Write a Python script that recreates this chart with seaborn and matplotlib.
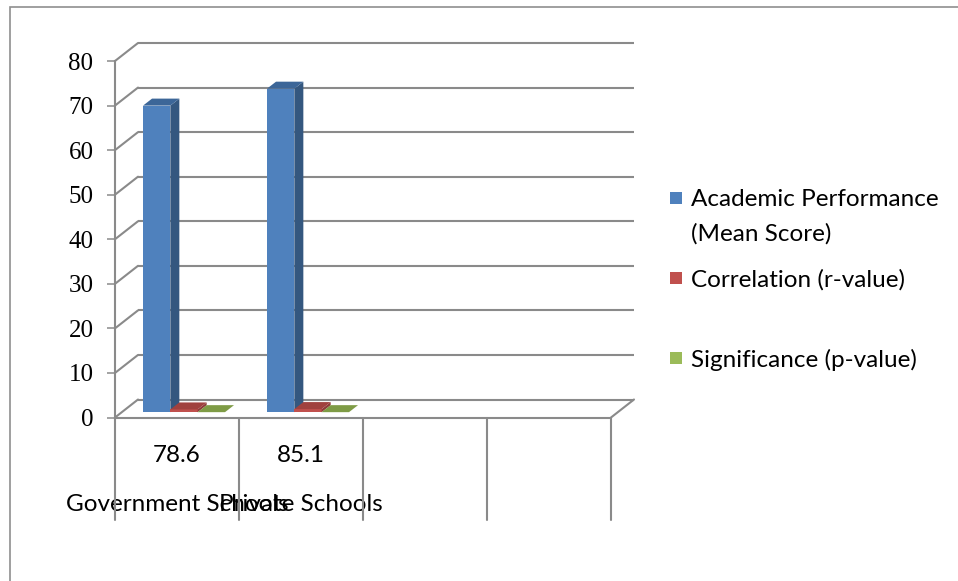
import numpy as np
import pandas as pd
import matplotlib
matplotlib.use("Agg")
import matplotlib.pyplot as plt
from matplotlib.patches import Polygon, Rectangle
from matplotlib.transforms import Affine2D
import seaborn as sns

# ---- data ----
categories = ["Government Schools", "Private Schools"]
category_values = ["78.6", "85.1"]
series = ["Academic Performance (Mean Score)", "Correlation (r-value)", "Significance (p-value)"]
legend_labels = [["Academic Performance", "(Mean Score)"],
                 ["Correlation (r-value)"],
                 ["Significance (p-value)"]]
academic = [68.8, 72.6]
correlation = [0.62, 0.70]
significance = [0.01, 0.01]
y_ticks = [0, 10, 20, 30, 40, 50, 60, 70, 80]
n_slots = 4  # two labelled categories followed by two empty slots

face_colors = ["#4F81BD", "#C0504D", "#9BBB59"]
side_colors = ["#34577F", "#8E3B39", "#71893F"]
top_colors = ["#3C6698", "#A0413E", "#7E9B45"]
grid_color = "#8A8A8A"

df = pd.DataFrame({
    "category": categories * 3,
    "series": [s for s in series for _ in categories],
    "value": academic + correlation + significance,
})

# ---- figure / axes geometry (pixels) ----
W, H, DPI = 958, 581, 100
sns.set_theme(style="white")
plt.rcParams["font.family"] = ["Lato", "DejaVu Sans"]

fig = plt.figure(figsize=(W / DPI, H / DPI), dpi=DPI)
fig.patch.set_facecolor("white")


def fx(px):
    return px / W


def fy(py):
    return 1 - py / H


front_left, front_right = 115, 611
zero_py, top_py = 417.5, 61
px_per_x = (front_right - front_left) / n_slots
px_per_y = (zero_py - top_py) / 80
DEPTH_X, DEPTH_Y = 23, 18          # depth of the floor / walls
BAR_X, BAR_Y = 7, 5.3              # bars sit a little back from the front edge
BD_X, BD_Y = 9, 7                  # depth of each bar

dx = DEPTH_X / px_per_x
dy = DEPTH_Y / px_per_y
xlim = (-0.5, n_slots - 0.5 + dx)
ylim = (0, 80 + dy)
ax_right = front_right + DEPTH_X
ax_top = zero_py - ylim[1] * px_per_y
ax = fig.add_axes([fx(front_left), fy(zero_py),
                   (ax_right - front_left) / W, (zero_py - ax_top) / H])
ax.set_facecolor("none")

sns.barplot(data=df, x="category", y="value", hue="series", order=categories,
            hue_order=series, palette=face_colors, saturation=1, width=0.661,
            linewidth=0, legend=False, ax=ax, zorder=3)

ax.set_xlim(*xlim)
ax.set_ylim(*ylim)

# ---- back wall gridlines, side diagonals, floor ----
lw = 1.5
for v in y_ticks:
    ax.plot([-0.5 + dx, n_slots - 0.5 + dx], [v + dy, v + dy], color=grid_color,
            lw=lw, zorder=1, clip_on=False, solid_capstyle="butt")
    ax.plot([-0.5, -0.5 + dx], [v, v + dy], color=grid_color, lw=lw, zorder=1,
            clip_on=False)
ax.plot([-0.5, n_slots - 0.5], [0, 0], color=grid_color, lw=lw, zorder=2, clip_on=False)
ax.plot([n_slots - 0.5, n_slots - 0.5 + dx], [0, dy], color=grid_color, lw=lw,
        zorder=2, clip_on=False)
sep_bottom = -(520 - zero_py) / px_per_y
for i in range(n_slots + 1):
    ax.plot([i - 0.5, i - 0.5], [0, sep_bottom], color=grid_color, lw=lw,
            zorder=2, clip_on=False)

# ---- give the bars depth ----
shift = ax.transData + Affine2D().translate(BAR_X, BAR_Y)
bx = BD_X / px_per_x
by = BD_Y / px_per_y
for k, cont in enumerate(ax.containers):
    for bar in cont:
        x0, w, h = bar.get_x(), bar.get_width(), bar.get_height()
        bar.set_transform(shift)
        bar.set_zorder(3 + k)
        top = Polygon([(x0, h), (x0 + w, h), (x0 + w + bx, h + by), (x0 + bx, h + by)],
                      closed=True, facecolor=top_colors[k], edgecolor="none",
                      transform=shift, zorder=3 + k, clip_on=False)
        side = Polygon([(x0 + w, 0), (x0 + w + bx, by), (x0 + w + bx, h + by), (x0 + w, h)],
                       closed=True, facecolor=side_colors[k], edgecolor="none",
                       transform=shift, zorder=3 + k, clip_on=False)
        ax.add_patch(side)
        ax.add_patch(top)

# ---- axes styling ----
for s in ["top", "right", "bottom"]:
    ax.spines[s].set_visible(False)
ax.spines["left"].set_bounds(0, 80)
ax.spines["left"].set_color(grid_color)
ax.spines["left"].set_linewidth(lw)

ax.set_yticks(y_ticks)
ax.set_yticklabels([str(t) for t in y_ticks], family=["Liberation Serif", "DejaVu Serif"],
                   fontsize=18)
ax.tick_params(axis="y", direction="out", length=5.5, width=1.1, color=grid_color,
               pad=10, left=True, labelcolor="black")

ax.set_xticks(range(len(categories)))
ax.set_xticklabels([f"{v}\n\n{c}" for v, c in zip(category_values, categories)],
                   fontsize=17.5, linespacing=1.2)
ax.tick_params(axis="x", length=0, pad=20, labelcolor="black")
ax.set_xlabel("")
ax.set_ylabel("")
ax.grid(False)

# ---- legend ----
legend_rows = [[198, 232], [278], [358]]
sq = 12
for k, (lines, ys) in enumerate(zip(legend_labels, legend_rows)):
    fig.patches.append(Rectangle((fx(670), fy(ys[0] + sq / 2)), sq / W, sq / H,
                                 transform=fig.transFigure, facecolor=face_colors[k],
                                 edgecolor="none"))
    for line, y in zip(lines, ys):
        fig.text(fx(691), fy(y), line, fontsize=17.5, va="center_baseline",
                 ha="left", color="black")

# ---- chart frame ----
fig.patches.append(Rectangle((fx(10), fy(H + 10)), (W + 10) / W, (H + 3) / H,
                             transform=fig.transFigure, fill=False,
                             edgecolor="#8F8F8F", lw=1.2))

fig.savefig("out.png", dpi=DPI)
